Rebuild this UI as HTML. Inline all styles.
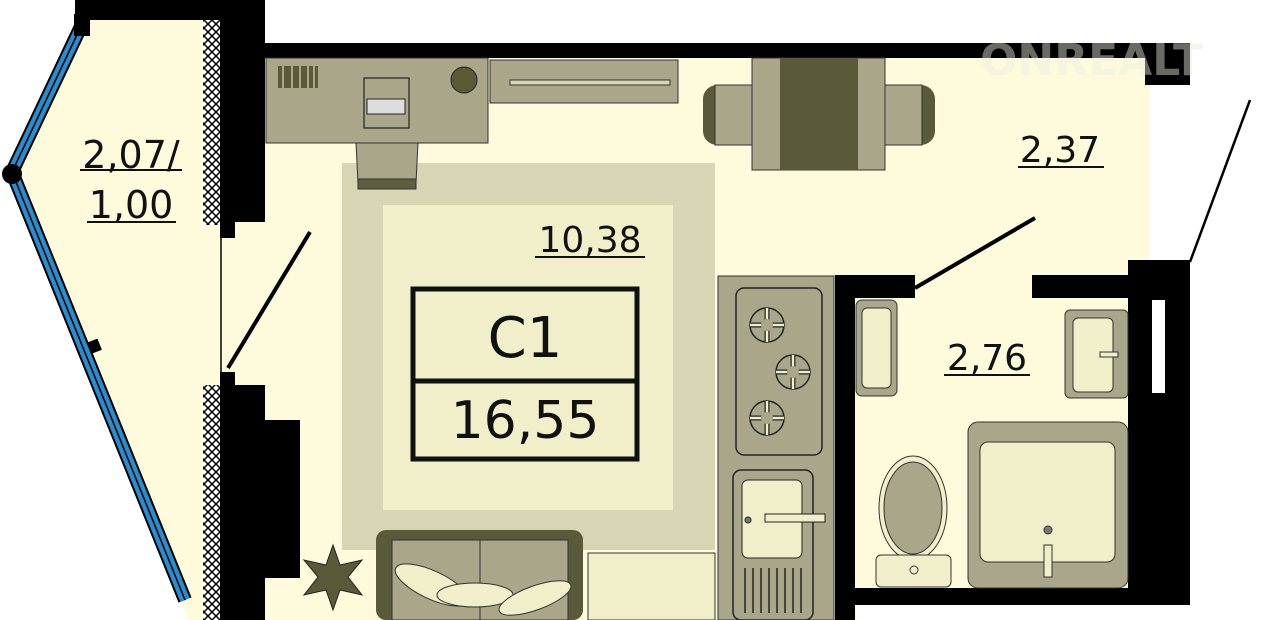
<!DOCTYPE html><html><head><meta charset="utf-8"><style>body{margin:0;background:#fff}svg{display:block}text{font-family:"DejaVu Sans","Liberation Sans",sans-serif;fill:#111}</style></head><body>
<svg width="1280" height="620" viewBox="0 0 1280 620" xmlns="http://www.w3.org/2000/svg">
<defs><pattern id="h" width="8" height="8" patternUnits="userSpaceOnUse"><rect width="8" height="8" fill="#fff"/><path d="M0 0L8 8M8 0L0 8" stroke="#000" stroke-width="1.5"/></pattern></defs>
<polygon points="80,18 205,18 205,620 188,620 10,175" fill="#fdfbdc"/>
<rect x="200" y="220" width="70" height="165" fill="#fdfbdc"/>
<rect x="255" y="55" width="895" height="565" fill="#fdfbdc"/>
<rect x="1130" y="80" width="20" height="200" fill="#fdfbdc"/>
<polyline points="84,20 12,172 185,600" fill="none" stroke="#000" stroke-width="14"/>
<polyline points="84,20 12,172 185,600" fill="none" stroke="#2a8ccc" stroke-width="10"/>
<polyline points="84,20 12,172 185,600" fill="none" stroke="#000" stroke-width="1.5"/>
<circle cx="12" cy="174" r="10" fill="#000"/><rect x="74" y="14" width="16" height="22" fill="#000"/>
<rect x="90" y="340" width="10" height="12" fill="#000" transform="rotate(-22 95 346)"/>
<rect x="75" y="0" width="180" height="20" fill="#000"/>
<rect x="215" y="0" width="50" height="222" fill="#000"/>
<rect x="220" y="220" width="15" height="18" fill="#000"/>
<rect x="203" y="20" width="17" height="205" fill="url(#h)"/>
<rect x="255" y="43" width="935" height="15" fill="#000"/>
<rect x="1145" y="43" width="45" height="42" fill="#000"/>
<rect x="215" y="385" width="50" height="235" fill="#000"/>
<rect x="220" y="372" width="15" height="14" fill="#000"/>
<rect x="203" y="385" width="17" height="235" fill="url(#h)"/>
<rect x="262" y="420" width="38" height="158" fill="#000"/>
<line x1="221" y1="225" x2="221" y2="380" stroke="#000" stroke-width="1.5"/>
<line x1="228" y1="368" x2="310" y2="232" stroke="#000" stroke-width="4"/>
<rect x="835" y="275" width="20" height="345" fill="#000"/>
<rect x="835" y="275" width="80" height="23" fill="#000"/>
<rect x="1032" y="275" width="108" height="23" fill="#000"/>
<rect x="1128" y="260" width="62" height="345" fill="#000"/>
<rect x="1152" y="300" width="13" height="93" fill="#fff"/>
<rect x="835" y="588" width="355" height="17" fill="#000"/>
<rect x="856" y="605" width="340" height="15" fill="#fff"/>
<line x1="915" y1="288" x2="1035" y2="218" stroke="#000" stroke-width="4"/>
<line x1="1190" y1="262" x2="1250" y2="100" stroke="#000" stroke-width="2.5"/>
<rect x="855" y="298" width="273" height="290" fill="#fdfbdc"/>
<rect x="342" y="163" width="373" height="387" fill="#d8d5b4"/>
<rect x="383" y="205" width="290" height="305" fill="#f1efca"/>
<rect x="266" y="58" width="222" height="85" fill="#a9a68a" stroke="#333" stroke-width="1"/>
<rect x="278" y="66" width="40" height="22" fill="#5a5a3a"/>
<g stroke="#a9a68a" stroke-width="2"><line x1="283" y1="66" x2="283" y2="88"/><line x1="292" y1="66" x2="292" y2="88"/><line x1="300" y1="66" x2="300" y2="88"/><line x1="308" y1="66" x2="308" y2="88"/><line x1="314" y1="66" x2="314" y2="88"/></g>
<rect x="364" y="78" width="45" height="50" fill="#a9a68a" stroke="#222" stroke-width="1.2"/>
<rect x="367" y="99" width="38" height="15" fill="#ddd" stroke="#222"/>
<circle cx="464" cy="80" r="13" fill="#5a5a3a" stroke="#222"/>
<path d="M356 143 L418 143 L416 183 L358 183Z" fill="#a9a68a" stroke="#333"/>
<rect x="358" y="179" width="58" height="10" fill="#5f5f40" stroke="#333"/>
<rect x="490" y="60" width="188" height="43" fill="#a9a68a" stroke="#333"/>
<rect x="510" y="80" width="160" height="5" fill="#d8d5b4" stroke="#333"/>
<rect x="703" y="85" width="49" height="60" rx="14" fill="#5a5a3a"/>
<rect x="715" y="85" width="37" height="60" fill="#a9a68a" stroke="#333"/>
<rect x="885" y="85" width="50" height="60" rx="14" fill="#5a5a3a"/>
<rect x="885" y="85" width="37" height="60" fill="#a9a68a" stroke="#333"/>
<rect x="752" y="58" width="133" height="112" fill="#a9a68a" stroke="#333"/>
<rect x="780" y="58" width="78" height="112" fill="#5a5a3a"/>
<rect x="718" y="276" width="116" height="344" fill="#a9a68a" stroke="#333"/>
<rect x="736" y="288" width="86" height="167" rx="8" fill="#a9a68a" stroke="#222" stroke-width="1.5"/>
<g fill="#a9a68a" stroke="#222" stroke-width="1.5"><circle cx="767" cy="325" r="17"/><circle cx="793" cy="372" r="17"/><circle cx="767" cy="418" r="17"/></g>
<g stroke="#222" stroke-width="5"><path d="M767 308v34M750 325h34M793 355v34M776 372h34M767 401v34M750 418h34"/></g>
<g stroke="#f1efca" stroke-width="2.5"><path d="M767 308v34M750 325h34M793 355v34M776 372h34M767 401v34M750 418h34"/></g>
<g fill="#a9a68a"><circle cx="767" cy="325" r="6"/><circle cx="793" cy="372" r="6"/><circle cx="767" cy="418" r="6"/></g>
<rect x="733" y="470" width="80" height="150" rx="8" fill="#a9a68a" stroke="#222" stroke-width="1.5"/>
<rect x="742" y="480" width="60" height="78" rx="6" fill="#f1efca" stroke="#222"/>
<g stroke="#222" stroke-width="1.5"><path d="M745 568v45M753 568v45M761 568v45M769 568v45M777 568v45M785 568v45M793 568v45M801 568v45"/></g>
<circle cx="748" cy="520" r="3" fill="#777" stroke="#222"/>
<rect x="765" y="514" width="60" height="8" fill="#f1efca" stroke="#222"/>
<rect x="376" y="530" width="207" height="90" rx="10" fill="#5a5a3a"/>
<rect x="392" y="540" width="88" height="80" fill="#a9a68a" stroke="#333"/>
<rect x="480" y="540" width="88" height="80" fill="#a9a68a" stroke="#333"/>
<ellipse cx="432" cy="585" rx="40" ry="14" transform="rotate(25 432 585)" fill="#f1efca" stroke="#333"/>
<ellipse cx="475" cy="595" rx="38" ry="12" fill="#f1efca" stroke="#333"/>
<ellipse cx="535" cy="598" rx="38" ry="12" transform="rotate(-20 535 598)" fill="#f1efca" stroke="#333"/>
<rect x="588" y="553" width="127" height="67" fill="#f1efca" stroke="#333"/>
<polygon points="333,545 340,565 362,560 348,577 362,595 340,590 333,610 326,590 304,595 318,577 304,560 326,565" fill="#5a5a3a" stroke="#222"/>
<rect x="856" y="300" width="41" height="96" rx="6" fill="#a9a68a" stroke="#333"/>
<rect x="862" y="308" width="29" height="80" rx="5" fill="#f1efca" stroke="#333"/>
<rect x="1065" y="310" width="63" height="88" rx="5" fill="#a9a68a" stroke="#333"/>
<rect x="1073" y="318" width="40" height="74" rx="5" fill="#f1efca" stroke="#333"/>
<rect x="1100" y="352" width="18" height="5" fill="#f1efca" stroke="#333"/>
<rect x="968" y="422" width="160" height="166" rx="10" fill="#a9a68a" stroke="#333"/>
<rect x="980" y="442" width="135" height="120" rx="8" fill="#f1efca" stroke="#333"/>
<rect x="1044" y="545" width="8" height="32" fill="#f1efca" stroke="#333"/>
<circle cx="1048" cy="530" r="4" fill="#777" stroke="#333"/>
<ellipse cx="913" cy="508" rx="34" ry="52" fill="#f1efca" stroke="#333"/>
<ellipse cx="913" cy="508" rx="29" ry="46" fill="#a9a68a" stroke="#333"/>
<rect x="876" y="555" width="75" height="32" rx="5" fill="#f1efca" stroke="#333"/>
<circle cx="914" cy="570" r="4" fill="none" stroke="#333"/>
<rect x="413" y="289" width="224" height="170" fill="none" stroke="#111" stroke-width="5"/>
<line x1="413" y1="381" x2="637" y2="381" stroke="#111" stroke-width="5"/>
<text x="525" y="357" font-size="56" text-anchor="middle">С1</text>
<text x="525" y="438" font-size="52" text-anchor="middle">16,55</text>
<g font-size="38" text-anchor="middle">
<text x="131" y="168">2,07/</text><line x1="80" y1="170" x2="182" y2="170" stroke="#111" stroke-width="2"/>
<text x="131" y="218">1,00</text><line x1="87" y1="222" x2="176" y2="222" stroke="#111" stroke-width="2"/>
<text x="590" y="252" font-size="36">10,38</text><line x1="535" y1="257" x2="645" y2="257" stroke="#111" stroke-width="2"/>
<text x="1060" y="162" font-size="36">2,37</text><line x1="1018" y1="167" x2="1104" y2="167" stroke="#111" stroke-width="2"/>
<text x="987" y="370" font-size="36">2,76</text><line x1="944" y1="375" x2="1030" y2="375" stroke="#111" stroke-width="2"/>
</g>
<text x="980" y="75" font-size="44" font-weight="bold" style="fill:rgba(235,235,225,0.45)">ONREALT</text>
</svg></body></html>
